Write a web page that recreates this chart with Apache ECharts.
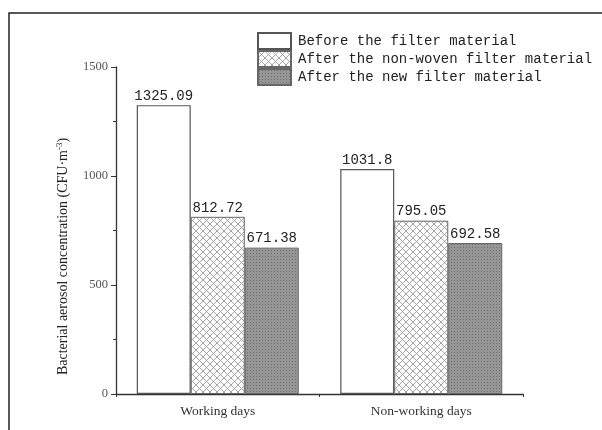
<!DOCTYPE html>
<html><head><meta charset="utf-8">
<script src="https://cdn.jsdelivr.net/npm/echarts@6/dist/echarts.min.js"></script>
<style>html,body{margin:0;padding:0;background:#fff}#c{width:602px;height:430px}</style>
</head><body><div id="c"></div>
<script>
var categories = ['Working days', 'Non-working days'];
var seriesNames = ['Before the filter material', 'After the non-woven filter material', 'After the new filter material'];
var beforeFilter = [1325.09, 1031.8];
var nonWovenFilter = [812.72, 795.05];
var newFilter = [671.38, 692.58];
var yTicks = [0, 500, 1000, 1500];

function hatchPattern() {
  var c = document.createElement('canvas'); c.width = 7; c.height = 7;
  var g = c.getContext('2d');
  g.fillStyle = '#ffffff'; g.fillRect(0, 0, 7, 7);
  g.strokeStyle = '#9a9a9a'; g.lineWidth = 0.9;
  g.beginPath();
  g.moveTo(-1, -1); g.lineTo(8, 8);
  g.moveTo(-1, 8); g.lineTo(8, -1);
  g.stroke();
  return c;
}
function dotPattern() {
  var c = document.createElement('canvas'); c.width = 3; c.height = 3;
  var g = c.getContext('2d');
  g.fillStyle = '#969696'; g.fillRect(0, 0, 3, 3);
  g.fillStyle = '#6e6e6e'; g.fillRect(1, 1, 1, 1);
  return c;
}

var chart = echarts.init(document.getElementById('c'), null, {renderer: 'canvas'});
var labelStyle = {show: true, position: 'top', distance: 2, fontFamily: 'Liberation Mono', fontSize: 14, color: '#222'};
var serif = 'Liberation Serif';
chart.setOption({
  animation: false,
  backgroundColor: '#fff',
  graphic: [{type: 'rect', shape: {x: 9, y: 13, width: 700, height: 500}, style: {fill: 'none', stroke: '#222', lineWidth: 1.5}, silent: true}],
  legend: {
    orient: 'vertical', left: 252, top: 27, itemWidth: 33, itemHeight: 16, itemGap: 0, icon: 'rect',
    textStyle: {fontFamily: 'Liberation Mono', fontSize: 14, color: '#222', padding: [0, 0, 0, 2]},
    data: seriesNames
  },
  grid: {left: 116, right: 79, top: 67, bottom: 36},
  xAxis: [{
    type: 'category', data: categories,
    axisLine: {lineStyle: {color: '#333', width: 1.3}},
    axisTick: {alignWithLabel: true, length: 5, lineStyle: {color: '#333'}},
    axisLabel: {fontFamily: serif, fontSize: 13.5, color: '#333', margin: 10}
  }, {
    type: 'value', min: 0, max: 2, interval: 1, position: 'bottom',
    axisLine: {show: false}, splitLine: {show: false}, axisLabel: {show: false},
    axisTick: {show: true, length: 3, lineStyle: {color: '#333'}}
  }],
  yAxis: {
    type: 'value', min: yTicks[0], max: yTicks[yTicks.length - 1], interval: 500,
    name: '{n|Bacterial aerosol concentration (CFU·m}{s|-3}{n|)}',
    nameLocation: 'middle', nameGap: 44, nameRotate: 90,
    nameTextStyle: {padding: [0, 52, 0, 0], rich: {n: {fontFamily: serif, fontSize: 14, color: '#222'}, s: {fontFamily: serif, fontSize: 9, color: '#222', verticalAlign: 'top', padding: [0, 0, 8, 0]}}},
    axisLine: {show: true, lineStyle: {color: '#333', width: 1.3}},
    axisTick: {show: true, length: 5, lineStyle: {color: '#333'}},
    minorTick: {show: true, splitNumber: 2, length: 3, lineStyle: {color: '#333'}},
    splitLine: {show: false},
    axisLabel: {fontFamily: serif, fontSize: 12.5, color: '#555', margin: 8, formatter: function (v) { return String(v); }}
  },
  series: [{
    name: seriesNames[0], type: 'bar', data: beforeFilter, barWidth: 54, barGap: '0%',
    itemStyle: {color: '#ffffff', borderColor: '#555', borderWidth: 1.2},
    label: labelStyle
  }, {
    name: seriesNames[1], type: 'bar', data: nonWovenFilter, barWidth: 54, barGap: '0%',
    itemStyle: {color: {image: hatchPattern(), repeat: 'repeat'}, borderColor: '#666', borderWidth: 1},
    label: labelStyle
  }, {
    name: seriesNames[2], type: 'bar', data: newFilter, barWidth: 54, barGap: '0%',
    itemStyle: {color: {image: dotPattern(), repeat: 'repeat'}, borderColor: '#666', borderWidth: 1},
    label: labelStyle
  }]
});
</script></body></html>
